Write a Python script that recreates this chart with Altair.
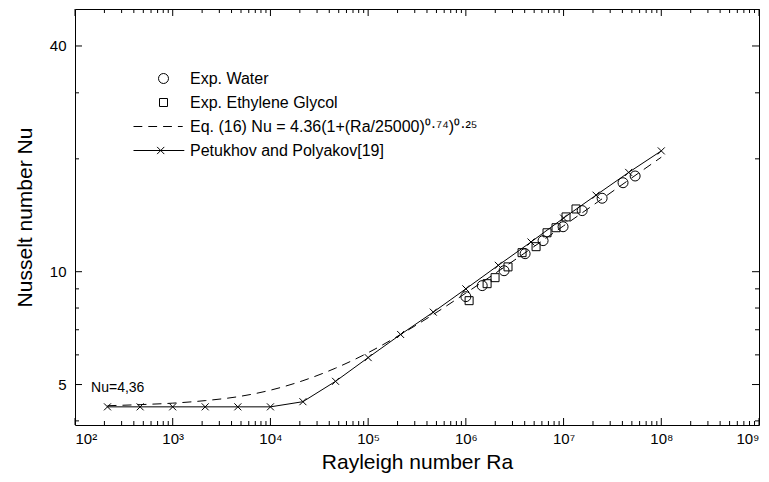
import altair as alt
import pandas as pd

W, H = 684, 416
FONT = "Liberation Sans"

# Petukhov and Polyakov curve (marker points) and Eq. (16) curve
ra_grid = [215, 464, 1000, 2150, 4640, 1.0e4, 2.15e4, 4.64e4, 1.0e5, 2.15e5, 4.64e5,
           1.0e6, 2.15e6, 4.64e6, 1.0e7, 2.15e7, 4.64e7, 1.0e8]
nu_petukhov = [4.36, 4.36, 4.36, 4.36, 4.36, 4.36, 4.5, 5.1, 5.9, 6.8, 7.8,
               9.0, 10.4, 12.0, 13.9, 16.0, 18.4, 21.0]
nu_eq16 = [4.39, 4.42, 4.46, 4.53, 4.64, 4.83, 5.12, 5.53, 6.08, 6.80, 7.69,
           8.77, 10.03, 11.52, 13.25, 15.24, 17.56, 20.2]

# Experimental data
ra_water = [1.0e6, 1.47e6, 2.46e6, 4.04e6, 6.17e6, 9.88e6, 1.55e7, 2.48e7, 4.06e7, 5.4e7]
nu_water = [8.58, 9.18, 10.06, 11.17, 12.1, 13.18, 14.55, 15.7, 17.27, 18.0]
ra_eg = [1.08e6, 1.65e6, 1.99e6, 2.7e6, 3.76e6, 5.23e6, 6.77e6, 8.37e6, 1.06e7, 1.34e7]
nu_eg = [8.37, 9.29, 9.64, 10.3, 11.24, 11.66, 12.7, 13.1, 14.0, 14.7]

series_names = ["Exp. Water", "Exp. Ethylene Glycol",
                "Eq. (16) Nu = 4.36(1+(Ra/25000)\u2070\u00b7\u2077\u2074)\u2070\u00b7\u00b2\u2075",
                "Petukhov and Polyakov[19]"]

# Axis ticks
x_major = [1e2, 1e3, 1e4, 1e5, 1e6, 1e7, 1e8, 1e9]
x_minor = [k * 10 ** d for d in range(2, 9) for k in range(2, 10)]
y_major = [5, 10, 40]
y_minor = [4, 6, 7, 8, 9, 20, 30]

note_ra = [146]
note_nu = [4.9]
note_text = ["Nu=4,36"]

xs = alt.Scale(type="log", domain=[1e2, 1e9], nice=False)
ys = alt.Scale(type="log", domain=[3.9, 50.2], nice=False)

xaxis = alt.Axis(values=x_major, title="Rayleigh number Ra",
                 labelExpr="'10' + ['\u00b2','\u00b3','\u2074','\u2075','\u2076','\u2077','\u2078','\u2079'][round(log(datum.value)/LN10) - 2]",
                 labelPadding=6, titleX=W / 2, titleY=37, titleBaseline="middle")
yaxis = alt.Axis(values=y_major, format="d", title="Nusselt number Nu", labelPadding=9,
                 titleX=-50, titleY=H / 2, titleAngle=-90, titleBaseline="middle")


def X():
    return alt.X("Ra:Q", scale=xs, axis=xaxis)


def Y():
    return alt.Y("Nu:Q", scale=ys, axis=yaxis)


circle_path = "M0.625,0A0.625,0.625 0 1,1 -0.625,0A0.625,0.625 0 1,1 0.625,0Z"
square_path = "M-0.5,-0.5H0.5V0.5H-0.5Z"
dash_path = "M-3.75,0H-2.65M-1.9,0H-0.8M-0.05,0H1.05M1.8,0H2.4"
pet_path = "M-3.75,0H2.6M-0.8,-0.45L0.1,0.45M-0.8,0.45L0.1,-0.45"

curves = pd.DataFrame({"Ra": ra_grid, "Nu": nu_petukhov})
eq = pd.DataFrame({"Ra": ra_grid, "Nu": nu_eq16})
exp = pd.DataFrame({
    "Ra": ra_water + ra_eg,
    "Nu": nu_water + nu_eg,
    "series": [series_names[0]] * len(ra_water) + [series_names[1]] * len(ra_eg),
})

eq_line = alt.Chart(eq).mark_line(color="black", strokeWidth=1, strokeDash=[9, 6],
                                  interpolate="monotone").encode(x=X(), y=Y())
pet_line = alt.Chart(curves).mark_line(color="black", strokeWidth=1).encode(x=X(), y=Y())
pet_pts = alt.Chart(curves).mark_point(
    shape="M-1,-1L1,1M-1,1L1,-1", size=49, color="black", filled=False, strokeWidth=1, opacity=1
).encode(x=X(), y=Y())

exp_pts = alt.Chart(exp).mark_point(filled=False, size=256, color="black", strokeWidth=1, opacity=1).encode(
    x=X(), y=Y(),
    shape=alt.Shape("series:N",
                    scale=alt.Scale(domain=series_names,
                                    range=[circle_path, square_path, dash_path, pet_path]),
                    legend=alt.Legend(orient="none", legendX=80, legendY=61, title=None,
                                      labelFont=FONT, labelFontSize=16, labelColor="black",
                                      symbolStrokeColor="black", symbolFillColor="transparent",
                                      symbolStrokeWidth=1, symbolSize=256, labelOffset=18,
                                      rowPadding=7, labelLimit=800, padding=0)),
)

note = alt.Chart(pd.DataFrame({"Ra": note_ra, "Nu": note_nu, "t": note_text})).mark_text(
    align="left", baseline="middle", font=FONT, fontSize=14, color="black"
).encode(x=X(), y=Y(), text="t:N")

# inward ticks on all four sides
xmaj = pd.DataFrame({"Ra": x_major})
xmin = pd.DataFrame({"Ra": x_minor})
ymaj = pd.DataFrame({"Nu": y_major})
ymin = pd.DataFrame({"Nu": y_minor})


def xticks(df, ln):
    b = alt.Chart(df).mark_rule(color="black", strokeWidth=1).encode(
        x=X(), x2=alt.X2("Ra"), y=alt.value(H), y2=alt.value(H - ln))
    t = alt.Chart(df).mark_rule(color="black", strokeWidth=1).encode(
        x=X(), x2=alt.X2("Ra"), y=alt.value(0), y2=alt.value(ln))
    return [b, t]


def yticks(df, ln):
    l = alt.Chart(df).mark_rule(color="black", strokeWidth=1).encode(
        y=Y(), y2=alt.Y2("Nu"), x=alt.value(0), x2=alt.value(ln))
    r = alt.Chart(df).mark_rule(color="black", strokeWidth=1).encode(
        y=Y(), y2=alt.Y2("Nu"), x=alt.value(W), x2=alt.value(W - ln))
    return [l, r]


layers = [eq_line, pet_line, pet_pts, exp_pts, note] + xticks(xmaj, 7) + xticks(xmin, 4) \
    + yticks(ymaj, 7) + yticks(ymin, 4)

chart = alt.layer(*layers).properties(
    width=W, height=H, autosize="none",
    padding={"left": 67, "top": 1, "right": 2, "bottom": 49},
    background="white",
).configure_view(stroke="black", strokeWidth=1).configure_axis(
    grid=False, ticks=False, domain=False, labelFont=FONT, labelFontSize=15,
    labelColor="black", titleFont=FONT, titleFontSize=21, titleFontWeight="normal",
    titleColor="black",
)

chart.save("out.html", embed_options={"renderer": "svg", "actions": False})
